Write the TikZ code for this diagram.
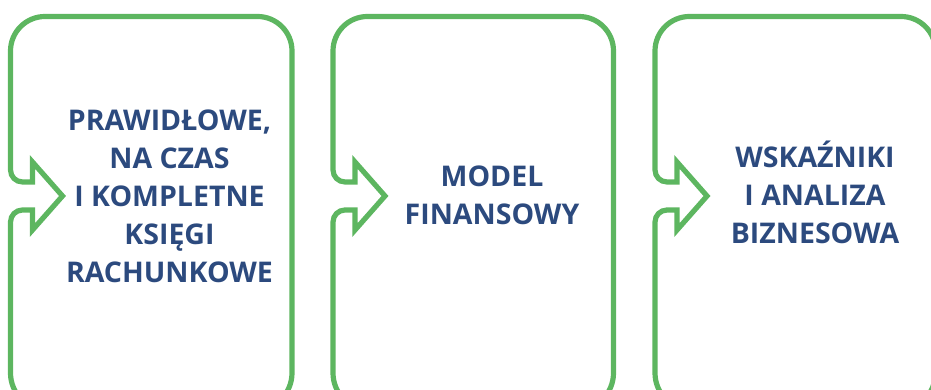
\documentclass[tikz,border=0pt]{standalone}
\usepackage{fontspec}
\setmainfont{Open Sans}
\definecolor{boxgreen}{RGB}{93,182,96}
\definecolor{textblue}{RGB}{44,74,126}

\begin{document}
\begin{tikzpicture}[x=1pt, y=1pt,
    outline/.style={draw=boxgreen, line width=5.2pt, line join=miter},
    boxtext/.style={text=textblue, font=\fontsize{28.5}{38}\selectfont\bfseries, align=center, inner sep=0pt}
]
\useasboundingbox (0,0) rectangle (931,390);
\clip (0,0) rectangle (931,390);

% Ledger box
\draw[outline, shift={(10.5,0)}] (52,194) -- (22,228) -- (22,208) -- (12,208)
    arc[start angle=270, end angle=180, radius=12] -- (0,339)
    arc[start angle=180, end angle=90, radius=34.5] -- (247,373.5)
    arc[start angle=90, end angle=0, radius=34.5] -- (281.5,17)
    arc[start angle=0, end angle=-90, radius=37] -- (37,-20)
    arc[start angle=270, end angle=180, radius=37] -- (0,168)
    arc[start angle=180, end angle=90, radius=12] -- (22,180) -- (22,160) -- cycle;
\node[boxtext] (ksiegi) at (169.5,193.5) {PRAWIDŁOWE,\\NA CZAS\\I KOMPLETNE\\KSIĘGI\\RACHUNKOWE};

% Financial model box
\draw[outline, shift={(333,0)}] (52,194) -- (22,228) -- (22,208) -- (12,208)
    arc[start angle=270, end angle=180, radius=12] -- (0,339)
    arc[start angle=180, end angle=90, radius=34.5] -- (246,373.5)
    arc[start angle=90, end angle=0, radius=34.5] -- (280.5,17)
    arc[start angle=0, end angle=-90, radius=37] -- (37,-20)
    arc[start angle=270, end angle=180, radius=37] -- (0,168)
    arc[start angle=180, end angle=90, radius=12] -- (22,180) -- (22,160) -- cycle;
\node[boxtext] (model) at (492,195) {MODEL\\FINANSOWY};

% Ratios box
\draw[outline, shift={(655,0)}] (52,194) -- (22,228) -- (22,208) -- (12,208)
    arc[start angle=270, end angle=180, radius=12] -- (0,339)
    arc[start angle=180, end angle=90, radius=34.5] -- (246,373.5)
    arc[start angle=90, end angle=0, radius=34.5] -- (280.5,17)
    arc[start angle=0, end angle=-90, radius=37] -- (37,-20)
    arc[start angle=270, end angle=180, radius=37] -- (0,168)
    arc[start angle=180, end angle=90, radius=12] -- (22,180) -- (22,160) -- cycle;
\node[boxtext] (wskazniki) at (815,198) {WSKAŹNIKI\\I ANALIZA\\BIZNESOWA};

\end{tikzpicture}
\end{document}
